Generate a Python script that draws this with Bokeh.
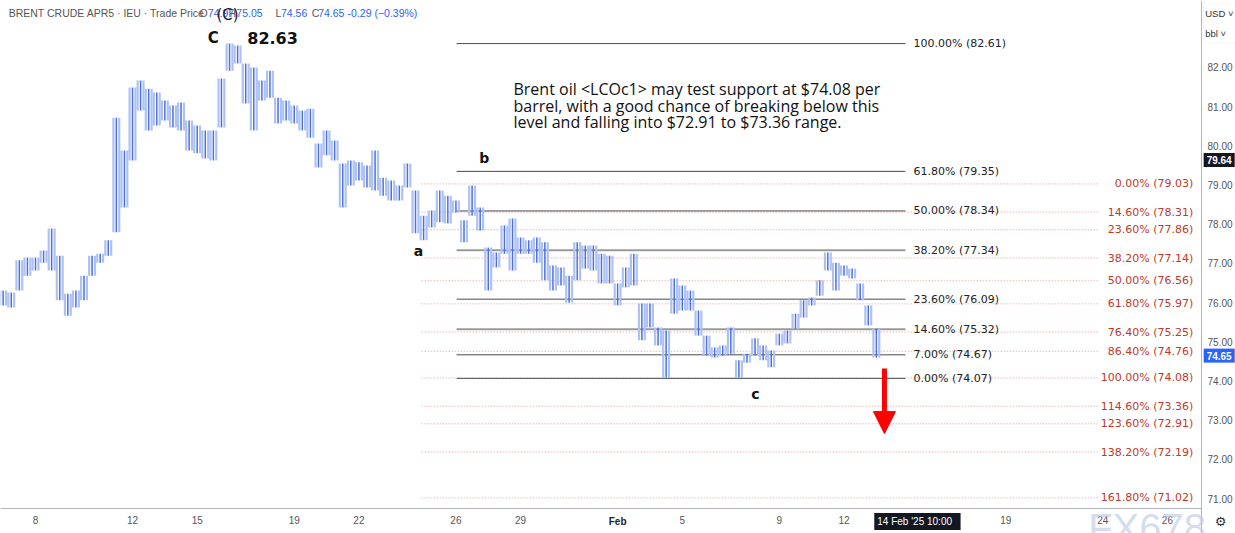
from bokeh.plotting import figure
from bokeh.models import (FixedTicker, Label, Arrow, NormalHead, ColumnDataSource,
                          PrintfTickFormatter, BoxAnnotation)
from bokeh.embed import file_html
from bokeh.resources import INLINE
from bokeh.core.properties import value

# ---------------- data ----------------
# time axis: trading-day offset from the 8 Jan session, one bar every 6 trading hours
bar_start = -1.0
bar_step = 0.25
bar_high = [
    76.31, 76.26, 77.08, 77.15,   # day -1
    77.15, 77.33, 77.89, 77.20,   # 8 Jan
    76.23, 76.31, 76.69, 77.20,
    77.25, 77.59, 80.72, 79.88,
    81.49, 81.67, 81.46, 81.36,   # 12
    81.16, 81.03, 81.11, 80.65,
    80.52, 80.39, 80.39, 81.72,   # 15
    82.61, 82.56, 82.10, 82.00,
    81.67, 81.92, 81.23, 81.16,
    81.03, 80.90, 80.95, 80.06,   # 19
    80.39, 80.14, 79.55, 79.63,
    79.58, 79.50, 79.88, 79.19,   # 22
    79.12, 78.99, 79.55, 78.86,
    78.22, 78.35, 78.86, 78.73,
    78.61, 78.10, 78.99, 78.43,   # 26
    77.41, 77.28, 77.97, 78.15,
    77.66, 77.59, 77.66, 77.54,   # 29
    76.95, 76.90, 76.69, 77.54,
    77.46, 77.46, 77.25, 77.20,
    76.49, 76.90, 77.25, 75.98,   # Feb
    75.98, 75.37, 75.29, 76.62,
    76.44, 76.31, 75.80, 75.16,   # 5
    74.86, 74.91, 75.37, 74.53,
    74.70, 75.09, 74.91, 74.78,
    75.21, 75.29, 75.72, 76.06,   # 9
    76.13, 76.57, 77.28, 77.02,
    76.95, 76.87, 76.49, 75.93,   # 12
    75.34,
]
bar_low = [
    75.93, 75.88, 76.31, 76.69,
    76.82, 77.02, 76.82, 76.06,
    75.67, 75.88, 76.06, 76.69,
    77.02, 77.20, 77.80, 78.43,
    79.63, 80.90, 80.39, 80.52,
    80.65, 80.47, 80.39, 79.88,
    79.81, 79.68, 79.63, 80.47,
    81.92, 82.10, 81.08, 80.39,
    81.16, 81.23, 80.57, 80.65,
    80.57, 80.39, 80.21, 79.45,
    79.76, 79.63, 78.43, 78.99,
    79.12, 78.94, 78.86, 78.73,
    78.61, 78.61, 78.94, 77.77,
    77.59, 77.92, 78.05, 78.02,
    78.30, 77.54, 78.22, 77.84,
    76.31, 76.90, 77.25, 76.82,
    77.25, 77.25, 77.02, 76.57,
    76.31, 76.44, 76.00, 76.57,
    76.87, 76.82, 76.49, 76.49,
    75.93, 76.39, 76.44, 75.04,
    75.37, 74.91, 74.09, 75.72,
    75.80, 75.80, 75.16, 74.65,
    74.60, 74.65, 74.70, 74.09,
    74.47, 74.65, 74.53, 74.35,
    74.91, 74.96, 75.34, 75.62,
    75.93, 76.18, 76.82, 76.31,
    76.69, 76.62, 76.06, 75.42,
    74.60,
]
bar_time = [bar_start + bar_step * i for i in range(len(bar_high))]

# Fibonacci retracement (black) and extension (red) levels
retr_pct = ["100.00%", "61.80%", "50.00%", "38.20%", "23.60%", "14.60%", "7.00%", "0.00%"]
retr_price = [82.61, 79.35, 78.34, 77.34, 76.09, 75.32, 74.67, 74.07]
ext_pct = ["0.00%", "14.60%", "23.60%", "38.20%", "50.00%", "61.80%", "76.40%",
           "86.40%", "100.00%", "114.60%", "123.60%", "138.20%", "161.80%"]
ext_price = [79.03, 78.31, 77.86, 77.14, 76.56, 75.97, 75.25, 74.76, 74.08, 73.36, 72.91, 72.19, 71.02]

# axis ticks
price_ticks = [71, 72, 73, 74, 75, 76, 77, 78, 79, 80, 81, 82]
date_tick_pos = [0, 3, 5, 8, 10, 13, 15, 18, 20, 23, 25, 30, 33, 35]
date_tick_lab = ["8", "12", "15", "19", "22", "26", "29", "Feb", "5", "9", "12", "19", "24", "26"]
last_price = 74.65
crosshair_price = 79.64

# ---------------- figure ----------------
X_AXIS_AT = 70.75     # price level where the time scale sits
Y_AXIS_AT = 36.055    # time position where the price scale sits
p = figure(width=1235, height=533, x_range=(-1.082, 37.105), y_range=(70.112, 83.709),
           y_axis_location="right", output_backend="svg", toolbar_location=None,
           min_border_left=0, min_border_top=0, min_border_right=0, min_border_bottom=0)
p.background_fill_color = "white"
p.border_fill_color = "white"
p.outline_line_color = None
p.xgrid.visible = False
p.ygrid.visible = False

for ax in (p.xaxis, p.yaxis):
    ax.major_tick_line_color = None
    ax.minor_tick_line_color = None
    ax.major_tick_out = 0
    ax.minor_tick_out = 0
    ax.major_tick_in = 0
    ax.minor_tick_in = 0
    ax.axis_line_color = "#b2b5be"
    ax.major_label_text_font = "Liberation Sans"
    ax.major_label_text_font_size = "10px"
    ax.major_label_text_color = "#555555"
p.yaxis.fixed_location = Y_AXIS_AT
p.yaxis.ticker = FixedTicker(ticks=price_ticks)
p.yaxis.formatter = PrintfTickFormatter(format="%.2f")
p.yaxis.major_label_standoff = 6
p.xaxis.fixed_location = X_AXIS_AT
p.xaxis.bounds = (-1.082, Y_AXIS_AT)
p.xaxis.ticker = FixedTicker(ticks=date_tick_pos)
p.xaxis.major_label_overrides = {t: ("" if l == "Feb" else l) for t, l in zip(date_tick_pos, date_tick_lab)}
p.xaxis.major_label_standoff = 8

# ---------------- fib lines ----------------
retr_src = ColumnDataSource(dict(
    y=retr_price,
    x0=[13.02] * len(retr_price), x1=[26.9] * len(retr_price),
    lab=[f"{a} ({b:.2f})" for a, b in zip(retr_pct, retr_price)],
    col=["#4a4a4a" if a not in ("38.20%", "14.60%") else "#9a9a9a" for a in retr_pct],
    w=[1 if a not in ("38.20%", "14.60%") else 2 for a in retr_pct],
    xl=[27.15] * len(retr_price)))
ext_src = ColumnDataSource(dict(
    y=ext_price,
    x0=[11.94] * len(ext_price), x1=[32.9] * len(ext_price),
    lab=[f"{a} ({b:.2f})" for a, b in zip(ext_pct, ext_price)],
    xl=[35.8] * len(ext_price)))

p.segment(x0="x0", y0="y", x1="x1", y1="y", source=ext_src, line_color="#e07b7b",
          line_width=1, line_dash="1 2", line_alpha=0.8)
p.segment(x0="x0", y0="y", x1="x1", y1="y", source=retr_src, line_color="col", line_width="w")

# ---------------- price bars (drawn as hatched high-low strokes) ----------------
for off, col, w in [(-0.09, "#aec1f3", 2.2), (0.09, "#aec1f3", 2.2), (0.0, "#4a70e2", 1.5)]:
    xs = [t + off for t in bar_time]
    p.segment(x0=xs, y0=bar_low, x1=xs, y1=bar_high, line_color=col, line_width=w)

# fib labels
p.text(x="xl", y="y", text="lab", source=retr_src, text_font=value("DejaVu Sans"),
       text_font_size="11px", text_color="#222222", text_baseline="middle", text_align="left")
p.text(x="xl", y="y", text="lab", source=ext_src, text_font=value("DejaVu Sans"),
       text_font_size="11px", text_color="#c0392b", text_baseline="middle", text_align="right")

# ---------------- annotations ----------------
def lab(x, y, t, size="11px", color="#222222", font="DejaVu Sans", bold=False, align="left",
        baseline="middle", bg=None, alpha=1.0):
    l = Label(x=x, y=y, text=t, text_font=font, text_font_size=size, text_color=color,
              text_font_style="bold" if bold else "normal", text_align=align,
              text_baseline=baseline, text_alpha=alpha)
    if bg:
        l.background_fill_color = bg
        l.padding = 3
    p.add_layout(l)

# header line
lab(-0.83, 83.40, "BRENT CRUDE APR5 \u00b7 IEU  \u00b7 Trade Price", "10.5px", "#555555", "Liberation Sans")
for xx, t, c in [(5.07, "O", "#555555"), (5.33, "74.97", "#2962ff"), (5.97, "H", "#555555"),
                 (6.21, "75.05", "#2962ff"), (7.42, "L", "#555555"), (7.59, "74.56", "#2962ff"),
                 (8.54, "C", "#555555"), (8.74, "74.65", "#2962ff"), (9.65, "-0.29 (\u22120.39%)", "#2962ff")]:
    lab(xx, 83.40, t, "10.5px", c, "Liberation Sans")

lab(5.94, 83.33, "(C)", "15px", "#222222", "DejaVu Sans", align="center")
lab(5.5, 82.74, "C", "15px", "#111111", "DejaVu Sans", bold=True, align="center")
lab(7.33, 82.74, "82.63", "16px", "#111111", "DejaVu Sans", bold=True, align="center")
lab(11.84, 77.33, "a", "14px", "#111111", "DejaVu Sans", bold=True, align="center")
lab(13.88, 79.68, "b", "14px", "#111111", "DejaVu Sans", bold=True, align="center")
lab(22.26, 73.66, "c", "14px", "#111111", "DejaVu Sans", bold=True, align="center")

for yy, t in [(81.46, "Brent oil <LCOc1> may test support at $74.08 per"),
              (81.02, "barrel, with a good chance of breaking below this"),
              (80.60, "level and falling into $72.91 to $73.36 range.")]:
    lab(14.78, yy, t, "16px", "#111111", "Open Sans")

p.add_layout(Arrow(end=NormalHead(size=22, fill_color="#ff0000", line_color="#ff0000"),
                   x_start=26.25, y_start=74.32, x_end=26.25, y_end=72.66,
                   line_color="#ff0000", line_width=5))

# price-scale tags, currency/unit selectors
lab(36.6, crosshair_price, f"{crosshair_price:.2f}", "10px", "white", "Liberation Sans", bold=True,
    align="center", bg="#131722")
lab(36.6, last_price, f"{last_price:.2f}", "10px", "white", "Liberation Sans", bold=True,
    align="center", bg="#2962ff")
p.add_layout(BoxAnnotation(left=36.12, right=37.3, top=83.62, bottom=82.62, fill_color=None,
                           line_color="#e0e3eb", line_width=1))
lab(36.17, 83.38, "USD \u02c5", "9.5px", "#333333", "Liberation Sans")
lab(36.17, 82.87, "bbl \u02c5", "9.5px", "#333333", "Liberation Sans")

# time-scale tag, bold month label, gear, watermark
lab(18.0, 70.42, "Feb", "10px", "#222222", "Liberation Sans", bold=True, align="center")
lab(27.27, 70.42, "14 Feb '25   10:00", "10px", "white", "Liberation Sans", align="center", bg="#131722")
lab(36.64, 70.42, "\u2699", "13px", "#333333", "DejaVu Sans", align="center")
lab(32.55, 70.25, "FX678", "40px", "#b9c6e2", "Liberation Sans", baseline="alphabetic", alpha=0.6)

open("out.html", "w").write(file_html(p, INLINE))
